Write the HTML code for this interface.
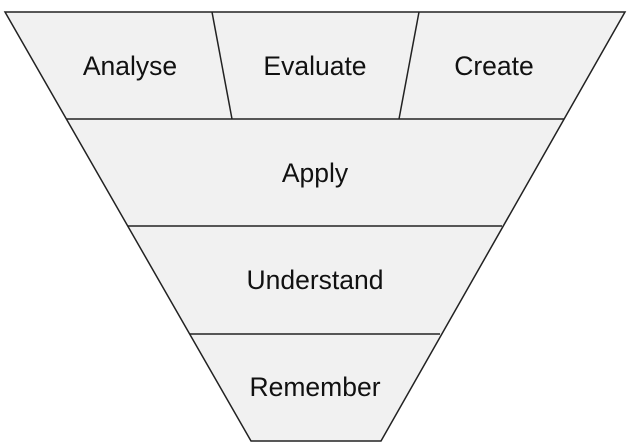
<!DOCTYPE html>
<html><head><style>html,body{margin:0;padding:0;background:#fff;}svg{display:block}</style></head>
<body>
<svg width="630" height="448" viewBox="0 0 630 448" xmlns="http://www.w3.org/2000/svg">
<g fill="#f1f1f1" stroke="#222" stroke-width="1.5">
<polygon points="5,12 625,12 381,441 251,441"/>
<line x1="66" y1="119" x2="564" y2="119"/>
<line x1="128" y1="226" x2="502" y2="226"/>
<line x1="190" y1="334" x2="440" y2="334"/>
<line x1="212" y1="12" x2="232" y2="119"/>
<line x1="419" y1="12" x2="399" y2="119"/>
</g>
<g font-family="Liberation Sans, Arial, sans-serif" font-size="26.5" fill="#111" text-anchor="middle">
<text x="130" y="75">Analyse</text>
<text x="315" y="75">Evaluate</text>
<text x="494" y="75">Create</text>
<text x="315" y="182">Apply</text>
<text x="315" y="289">Understand</text>
<text x="315" y="396">Remember</text>
</g>
</svg>
</body></html>
